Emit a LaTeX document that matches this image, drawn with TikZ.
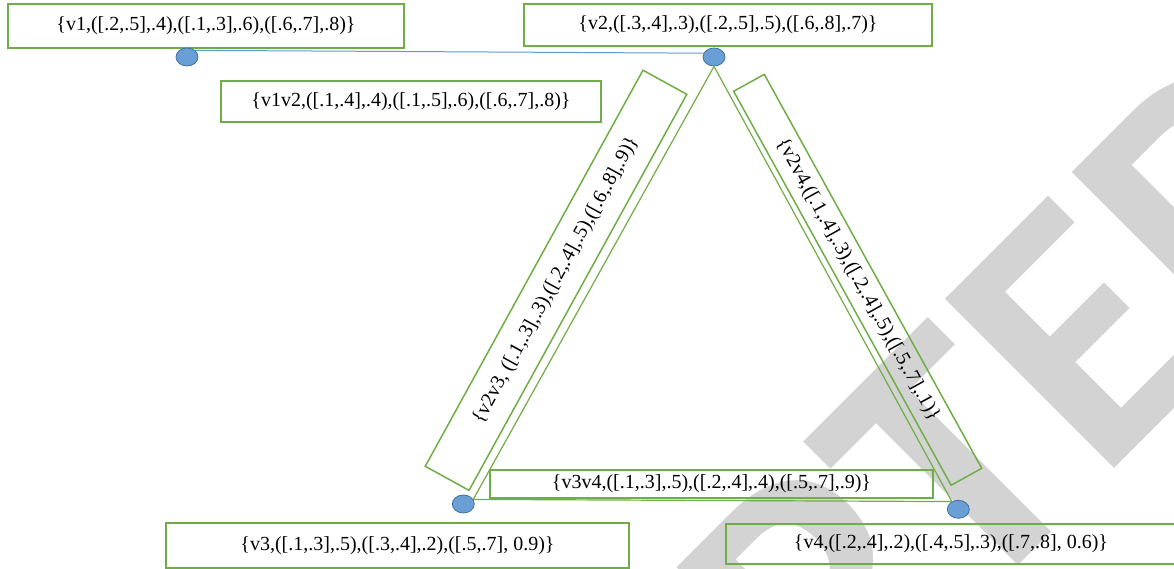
\documentclass[tikz,border=0pt]{standalone}
\usepackage{fontspec}
\setmainfont{Liberation Serif}
\newfontfamily\wmfont{Carlito}
\usetikzlibrary{shapes.geometric}
\definecolor{egreen}{HTML}{70AD47}
\definecolor{eblue}{HTML}{5B9BD5}
\definecolor{vfill}{HTML}{6A9FD6}
\definecolor{vdark}{HTML}{41719C}
\definecolor{wmgray}{RGB}{211,211,211}
\begin{document}
\begin{tikzpicture}[x=1pt,y=-1pt,
  lbl/.style={draw=egreen, line width=1.5pt, inner sep=0pt, font=\fontsize{20}{24}\selectfont, text=black},
  vert/.style={ellipse, draw=vdark, fill=vfill, line width=0.8pt, minimum width=22pt, minimum height=18pt, inner sep=0pt},
  gedge/.style={draw=egreen, line width=1.2pt},
  bedge/.style={draw=eblue, line width=1pt}]
\useasboundingbox (0,0) rectangle (1174,569);
\clip (0,0) rectangle (1174,569);
% watermark
\node[rotate=45, anchor=base west, inner sep=0pt, text=wmgray, font=\wmfont\bfseries\fontsize{369}{369}\selectfont] (wm) at (970.3,613.2) {\llap{ACCEP}TED};
% label boxes
\node[lbl, minimum width=396pt, minimum height=44pt] (l1) at (206,26) {\{v1,([.2,.5],.4),([.1,.3],.6),([.6,.7],.8)\}};
\node[lbl, minimum width=408pt, minimum height=42pt] (l2) at (728,25) {\{v2,([.3,.4],.3),([.2,.5],.5),([.6,.8],.7)\}};
\node[lbl, minimum width=380pt, minimum height=41pt] (l12) at (411,101.5) {\{v1v2,([.1,.4],.4),([.1,.5],.6),([.6,.7],.8)\}};
\node[lbl, minimum width=443pt, minimum height=28pt] (l34) at (711.5,484) {\{v3v4,([.1,.3],.5),([.2,.4],.4),([.5,.7],.9)\}};
\node[lbl, minimum width=463pt, minimum height=45pt] (l3) at (397.5,545.5) {\{v3,([.1,.3],.5),([.3,.4],.2),([.5,.7], 0.9)\}};
\node[lbl, minimum width=450pt, minimum height=40pt] (l4) at (951,544) {\{v4,([.2,.4],.2),([.4,.5],.3),([.7,.8], 0.6)\}};
\node[lbl, rotate=61.2, minimum width=452pt, minimum height=50pt] (l23) at (556,280.3) {\{v2v3, ([.1,.3],.3),([.2,.4],.5),([.6,.8],.9)\}};
\node[lbl, rotate=-61.1, minimum width=450pt, minimum height=35pt] (l24) at (857.7,279.8) {\{v2v4,([.1,.4],.3),([.2,.4],.5),([.5,.7],.1)\}};
% vertices
\node[vert] (v1) at (187,57) {};
\node[vert] (v2) at (714,57) {};
\node[vert] (v3) at (463.3,504) {};
\node[vert] (v4) at (958.3,509.3) {};
% edges
\draw[bedge] (v1.north east) -- (v2.160);
\draw[gedge] (v2.south) -- (v3.25);
\draw[gedge] (v2.south) -- (v4.130);
\draw[gedge] (v3.25) -- (v4.130);
\end{tikzpicture}
\end{document}
